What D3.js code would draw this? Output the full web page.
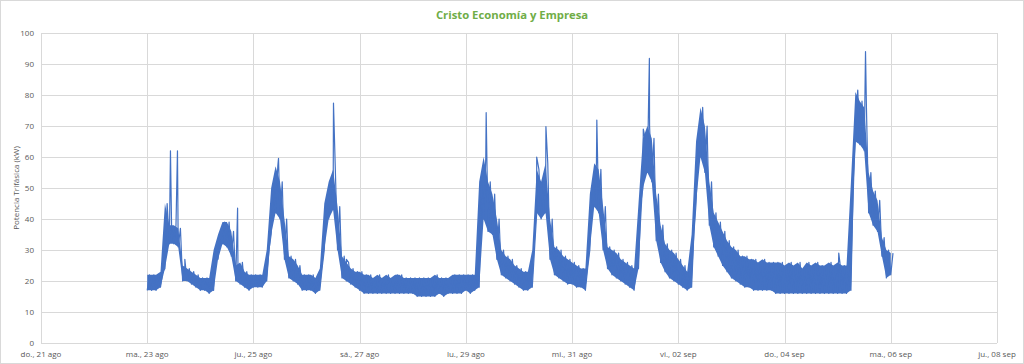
<!DOCTYPE html>
<html lang="es">
<head>
<meta charset="utf-8">
<script src="https://d3js.org/d3.v7.min.js"></script>
<style>
    body { margin: 0; background: #fff; }
    svg { display: block; font-family: "Open Sans", "Liberation Sans", sans-serif; }
    .grid line { stroke: #d9d9d9; stroke-width: 1; }
    .tick-label { fill: #595959; font-size: 8px; }
</style>
</head>
<body>
<div id="chart"></div>
<script>
// chart values
const chartTitle = "Cristo Economía y Empresa";
const yTitle = "Potencia Trifásica (kW)";
const yTicks = [0, 10, 20, 30, 40, 50, 60, 70, 80, 90, 100];
const xTickDates = ["2022-08-21", "2022-08-23", "2022-08-25", "2022-08-27", "2022-08-29",
                    "2022-08-31", "2022-09-02", "2022-09-04", "2022-09-06", "2022-09-08"];
const xTickLabels = ["do., 21 ago", "ma., 23 ago", "ju., 25 ago", "sá., 27 ago", "lu., 29 ago",
                     "mi., 31 ago", "vi., 02 sep", "do., 04 sep", "ma., 06 sep", "ju., 08 sep"];

// 2-hour slots starting 23 ago 00:00 : low / high edge of the noisy band (kW)
const slotStart = "2022-08-23T00:00";
const slotLow = [
    17,17,17,18,24,32,32,31,20,20,19,18,   // 23 ago
    17,17,16,17,27,32,31,28,20,19,18,17,   // 24 ago
    18,18,18,20,35,42,40,27,21,20,19,17,   // 25 ago
    17,17,16,17,30,40,43,30,21,20,19,18,   // 26 ago
    17,16,16,16,16,16,16,16,16,16,16,16,   // 27 ago
    16,15,15,15,15,15,16,15,16,16,16,16,   // 28 ago
    17,16,17,18,40,36,35,27,22,21,20,19,   // 29 ago
    18,17,17,18,42,40,42,27,22,21,20,19,   // 30 ago
    19,18,18,17,30,44,42,30,24,22,21,20,   // 31 ago
    19,18,17,24,50,55,52,33,26,23,21,20,   // 01 sep
    19,18,17,18,45,60,55,38,31,28,25,23,   // 02 sep
    21,20,19,18,18,17,17,17,17,17,16,16,   // 03 sep
    16,16,16,16,16,16,16,16,16,16,16,16,   // 04 sep
    16,16,16,17,65,64,62,42,38,36,28,21,   // 05 sep
    22                                     // 06 sep
];
const slotHigh = [
    22,22,22,23,45,38,38,37,25,24,23,22,
    21,21,21,30,35,39,39,36,25,26,23,22,
    22,22,22,30,50,57,52,40,28,27,25,22,
    22,22,21,24,45,52,56,44,28,26,24,23,
    23,22,22,21,22,21,22,21,22,22,21,21,
    21,21,21,21,21,22,21,21,21,22,22,22,
    22,22,22,52,60,52,48,40,30,28,27,25,
    24,23,23,30,56,52,58,40,31,30,28,27,
    26,25,24,24,48,58,56,44,31,30,29,27,
    26,25,24,45,66,70,66,48,38,32,30,29,
    27,25,23,35,65,76,70,52,42,39,36,33,
    31,30,28,28,27,27,26,27,26,26,26,26,
    25,26,25,26,24,26,25,26,25,25,26,25,
    26,25,25,52,81,78,76,55,49,46,34,30,
    29
];

// short spikes
const spikeTimes = ["2022-08-23T10:30", "2022-08-23T13:40", "2022-08-23T17:00", "2022-08-24T16:50",
                    "2022-08-25T11:20", "2022-08-26T12:10", "2022-08-26T18:00", "2022-08-29T09:10",
                    "2022-08-30T08:00", "2022-08-30T12:10", "2022-08-31T11:10", "2022-09-01T08:10",
                    "2022-09-01T10:55", "2022-09-05T00:30", "2022-09-05T09:05", "2022-09-05T12:35"];
const spikeKw = [62, 62, 27, 43.5, 59.6, 77.4, 27, 74.3, 60, 69.8, 71.9, 69, 91.8, 29, 81.6, 94];

const width = 1024, height = 364;
const margin = {left: 41, right: 27, top: 33, bottom: 21};

const parseDay = d3.timeParse("%Y-%m-%d");
const parseTime = d3.timeParse("%Y-%m-%dT%H:%M");

const svg = d3.select("#chart").append("svg")
    .attr("width", width).attr("height", height);

// outer border
svg.append("rect")
    .attr("x", 0.5).attr("y", 0.5)
    .attr("width", width - 1).attr("height", height - 1)
    .attr("fill", "#fff").attr("stroke", "#d9d9d9");

const x = d3.scaleTime()
    .domain([parseDay(xTickDates[0]), parseDay(xTickDates[xTickDates.length - 1])])
    .range([margin.left, width - margin.right]);
const y = d3.scaleLinear()
    .domain([0, 100])
    .range([height - margin.bottom, margin.top]);

// gridlines
const grid = svg.append("g").attr("class", "grid");
grid.selectAll(".h").data(yTicks).enter().append("line")
    .attr("x1", margin.left).attr("x2", width - margin.right)
    .attr("y1", d => Math.round(y(d)) + 0.5).attr("y2", d => Math.round(y(d)) + 0.5);
grid.selectAll(".v").data(xTickDates).enter().append("line")
    .attr("x1", d => Math.round(x(parseDay(d))) + 0.5).attr("x2", d => Math.round(x(parseDay(d))) + 0.5)
    .attr("y1", margin.top).attr("y2", height - margin.bottom);

// tick labels
svg.selectAll(".ylab").data(yTicks).enter().append("text")
    .attr("class", "tick-label")
    .attr("x", margin.left - 7)
    .attr("y", d => y(d))
    .attr("dy", "0.35em")
    .attr("text-anchor", "end")
    .text(d => d);
svg.selectAll(".xlab").data(xTickDates).enter().append("text")
    .attr("class", "tick-label")
    .attr("x", d => x(parseDay(d)))
    .attr("y", height - margin.bottom + 14)
    .attr("text-anchor", "middle")
    .text((d, i) => xTickLabels[i]);

// titles
svg.append("text")
    .attr("x", 512).attr("y", 19)
    .attr("text-anchor", "middle")
    .attr("fill", "#70ad47")
    .attr("font-weight", "bold")
    .attr("font-size", "11.3px")
    .text(chartTitle);
svg.append("text")
    .attr("transform", `translate(19,${(margin.top + height - margin.bottom) / 2}) rotate(-90)`)
    .attr("text-anchor", "middle")
    .attr("fill", "#595959")
    .attr("font-size", "8px")
    .text(yTitle);

// series
const t0 = parseTime(slotStart);
const band = slotLow.map((lo, i) => ({t: d3.timeHour.offset(t0, 2 * i), lo: lo, hi: slotHigh[i]}));

let pts = [];
band.forEach(d => {
    pts.push({t: d.t, v: d.lo});
    pts.push({t: d3.timeHour.offset(d.t, 1), v: d.hi});
});
spikeTimes.forEach((s, i) => pts.push({t: parseTime(s), v: spikeKw[i]}));
pts.sort((a, b) => a.t - b.t);

const blue = "#4472c4";

svg.append("path")
    .datum(band)
    .attr("fill", blue)
    .attr("d", d3.area().x(d => x(d.t)).y0(d => y(d.lo)).y1(d => y(d.hi)));

svg.append("path")
    .datum(pts)
    .attr("fill", "none")
    .attr("stroke", blue)
    .attr("stroke-width", 1.2)
    .attr("stroke-linejoin", "round")
    .attr("d", d3.line().x(d => x(d.t)).y(d => y(d.v)));
</script>
</body>
</html>
